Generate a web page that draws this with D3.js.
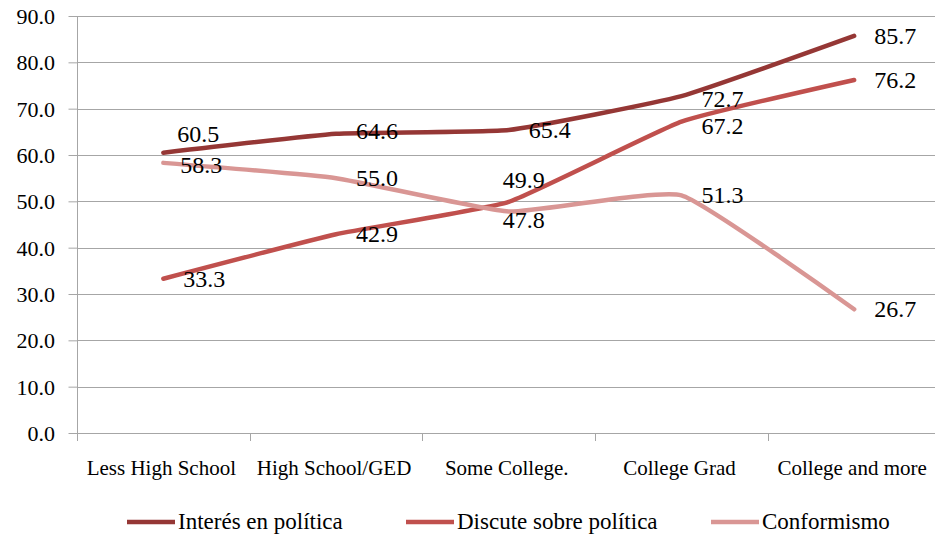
<!DOCTYPE html>
<html>
<head>
<meta charset="utf-8">
<script src="https://cdn.jsdelivr.net/npm/d3@7/dist/d3.min.js"></script>
<style>
  body { margin: 0; background: #fff; }
</style>
</head>
<body>
<svg id="chart" width="935" height="538"></svg>
<script>
// chart data
var categories = ['Less High School', 'High School/GED', 'Some College.', 'College Grad', 'College and more'];
var interes = [60.5, 64.6, 65.4, 72.7, 85.7];
var discute = [33.3, 42.9, 49.9, 67.2, 76.2];
var conformismo = [58.3, 55.0, 47.8, 51.3, 26.7];
var yTicks = [0, 10, 20, 30, 40, 50, 60, 70, 80, 90];

var series = [
  { name: 'Interés en política', values: interes, color: '#953735' },
  { name: 'Discute sobre política', values: discute, color: '#C0504D' },
  { name: 'Conformismo', values: conformismo, color: '#D99694' }
];

// hand nudges for labels that would otherwise collide (series index -> point index -> [dx, dy])
var labelNudge = {
  0: { 0: [-6, -19], 1: [0, -3], 3: [0, 3] },
  1: { 2: [-26, -22], 3: [0, 4] },
  2: { 2: [-26, 8], 0: [-3, 2] }
};

// generic serif gives the Times-like face
var FONT = 'serif';

var svg = d3.select('#chart').attr('font-family', FONT);
var mLeft = 77, mTop = 16, mBottom = 433, mRight = 940.5;

var x = d3.scaleBand().domain(categories).range([mLeft, mRight]);
var y = d3.scaleLinear().domain([0, 90]).range([mBottom, mTop]);

function addText(g, px, py, size) {
  return g.append('text')
    .attr('x', px).attr('y', py)
    .attr('font-family', FONT)
    .attr('font-size', size)
    .attr('fill', '#000');
}

// gridlines
svg.append('g').selectAll('line').data(yTicks.filter(d => d > 0)).enter().append('line')
  .attr('x1', mLeft).attr('x2', 935)
  .attr('y1', d => Math.round(y(d)) + 0.5).attr('y2', d => Math.round(y(d)) + 0.5)
  .attr('stroke', '#a6a6a6').attr('stroke-width', 1);

// y axis
var yAxis = svg.append('g').attr('transform', `translate(${mLeft + 0.5},0)`)
  .call(d3.axisLeft(y).tickValues(yTicks).tickFormat('').tickSize(9));
yAxis.select('.domain').attr('stroke', '#a6a6a6').attr('d', `M0,${mTop}V${mBottom}`);
yAxis.selectAll('.tick line').attr('stroke', '#a6a6a6');
var yLab = svg.append('g').attr('text-anchor', 'end');
yTicks.forEach(function(t) {
  addText(yLab, 55, Math.round(y(t)) + 7.5, 22).text(d3.format('.1f')(t));
});

// x axis (ticks at category boundaries)
svg.append('line').attr('x1', mLeft).attr('x2', 935)
  .attr('y1', mBottom + 0.5).attr('y2', mBottom + 0.5).attr('stroke', '#a6a6a6');
svg.append('g').selectAll('line').data(categories).enter().append('line')
  .attr('x1', d => Math.round(x(d)) + 0.5).attr('x2', d => Math.round(x(d)) + 0.5)
  .attr('y1', mBottom).attr('y2', mBottom + 8).attr('stroke', '#a6a6a6');
var xLab = svg.append('g').attr('text-anchor', 'middle');
categories.forEach(function(c) {
  addText(xLab, x(c) + x.bandwidth() / 2 - 2, 475, 21).text(c);
});

// lines
var line = d3.line()
  .x((d, i) => x(categories[i]) + x.bandwidth() / 2)
  .y(d => y(d))
  .curve(d3.curveCardinal.tension(0.6));

svg.append('g').selectAll('path').data(series).enter().append('path')
  .attr('d', d => line(d.values))
  .attr('fill', 'none')
  .attr('stroke', d => d.color)
  .attr('stroke-width', 4.5)
  .attr('stroke-linecap', 'round');

// data labels
var lab = svg.append('g');
series.forEach(function(s, si) {
  s.values.forEach(function(v, i) {
    var nd = (labelNudge[si] || {})[i] || [0, 0];
    addText(lab, x(categories[i]) + x.bandwidth() / 2 + 20 + nd[0], y(v) + 8 + nd[1], 24)
      .text(v.toFixed(1));
  });
});

// legend
var legendX = [127, 406, 711];
var legend = svg.append('g');
series.forEach(function(s, i) {
  legend.append('line').attr('x1', legendX[i]).attr('x2', legendX[i] + 48).attr('y1', 522).attr('y2', 522)
    .attr('stroke', s.color).attr('stroke-width', 4.5);
  addText(legend, legendX[i] + 51, 529, 23).text(s.name);
});
</script>
</body>
</html>
